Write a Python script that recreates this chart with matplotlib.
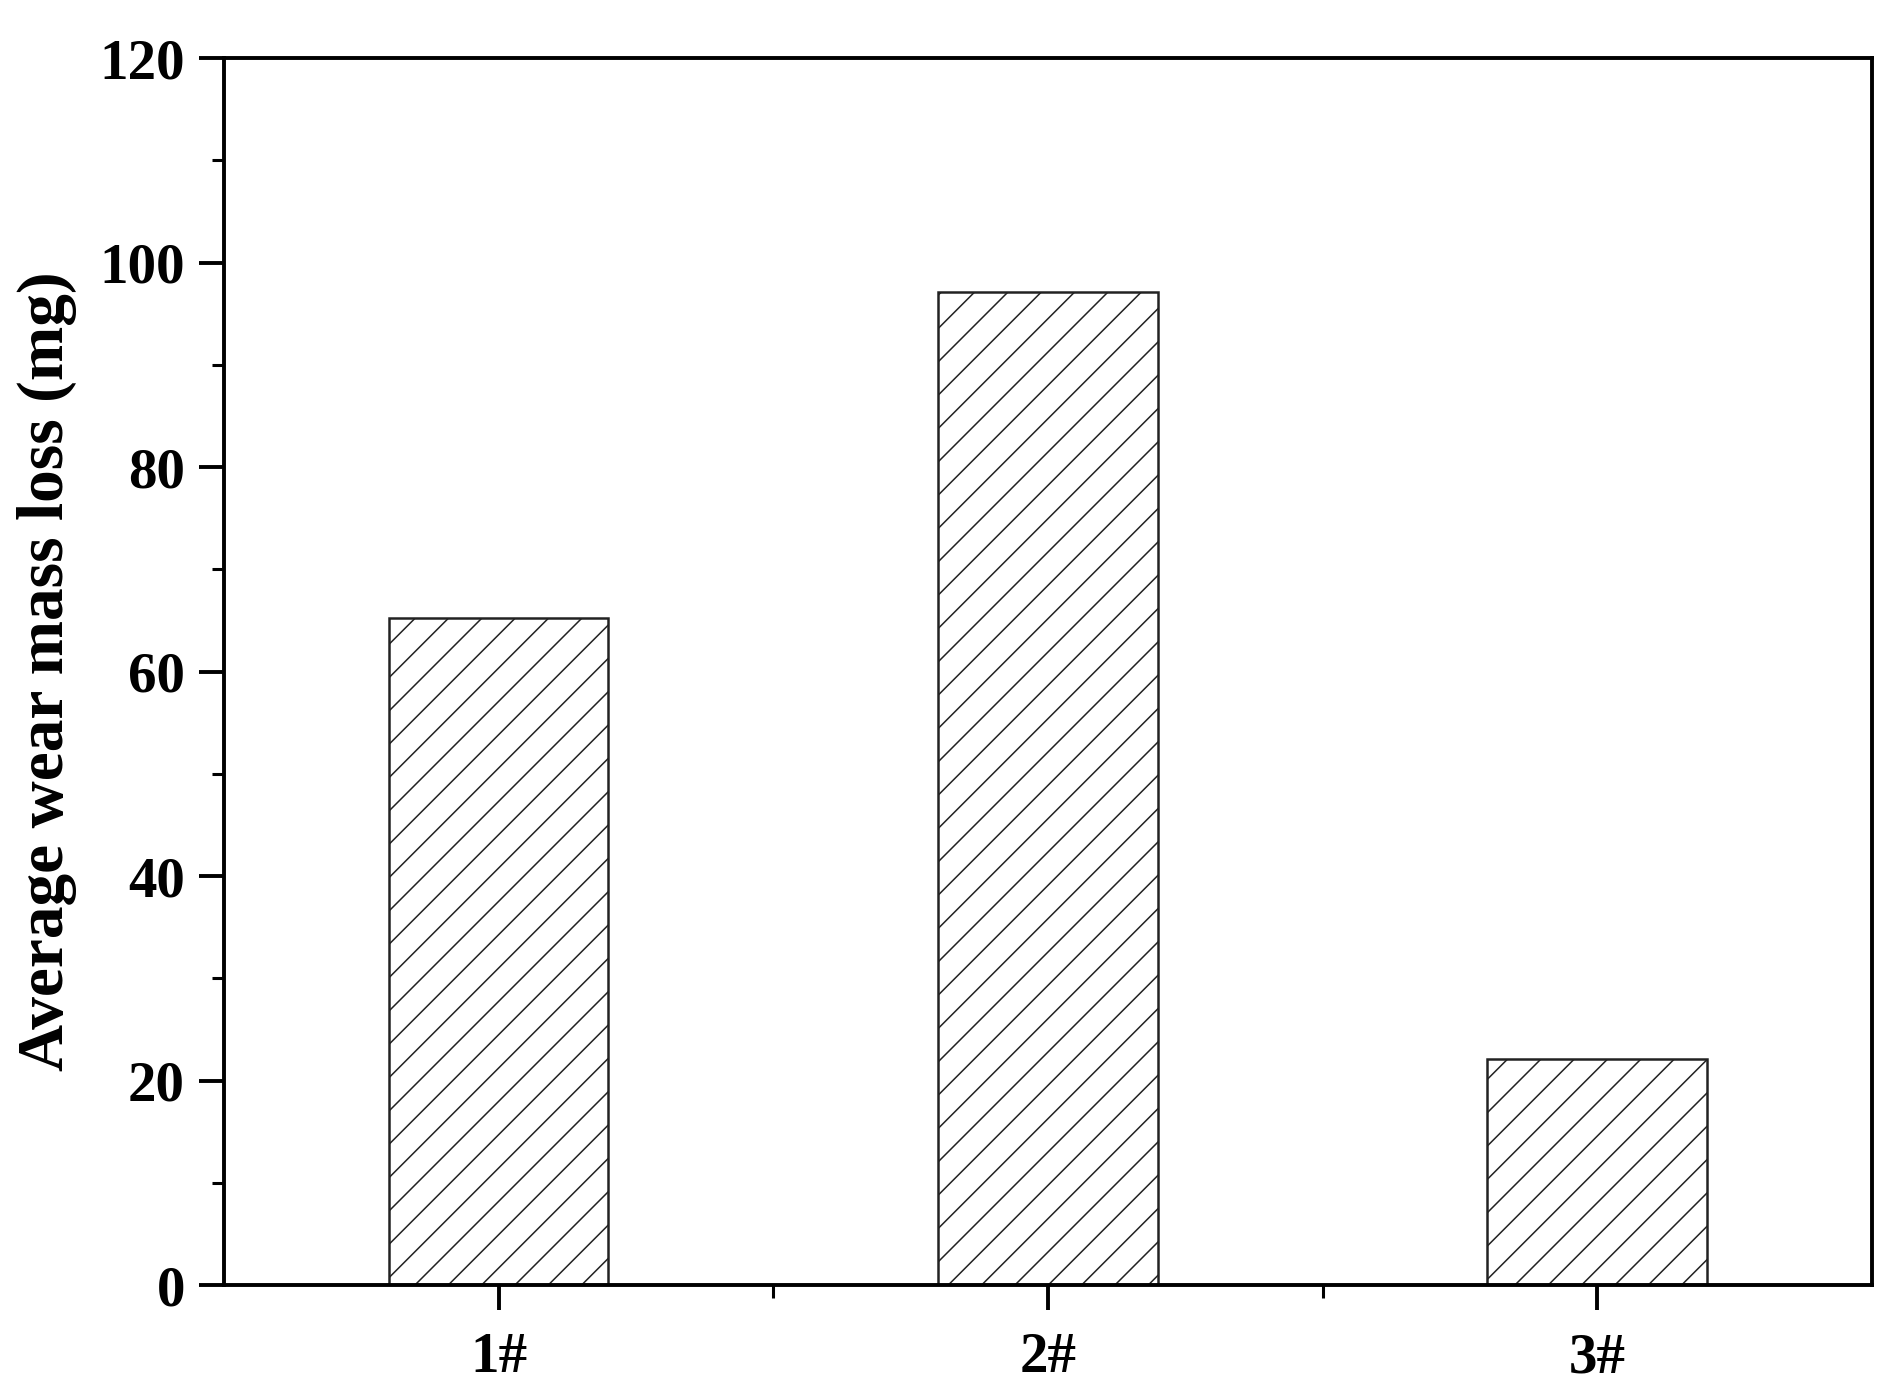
from matplotlib import pyplot as plt
from matplotlib.ticker import MultipleLocator, FixedLocator
import numpy as np

samples = ["1#", "2#", "3#"]
wear_loss = [65.2, 97.1, 22.1]

plt.rcParams["font.family"] = ["Liberation Serif", "DejaVu Serif"]
plt.rcParams["font.weight"] = "bold"
plt.rcParams["hatch.linewidth"] = 0.55
plt.rcParams["hatch.color"] = "#222222"

## high dpi so the hatch spacing comes out like the reference
fig = plt.figure(figsize=(9.48, 6.99), dpi=200)
ax = fig.add_axes([0.1181, 0.0808, 0.8692, 0.8777])

x = np.arange(1, len(samples) + 1)
ax.bar(x, wear_loss, width=0.4, color="white", edgecolor="#222222",
       linewidth=0.9, hatch="//")

ax.set_xlim(0.5, 3.5)
ax.set_ylim(0, 120)
ax.set_xticks(x)
ax.set_xticklabels(samples)
ax.xaxis.set_minor_locator(FixedLocator([1.5, 2.5]))
ax.yaxis.set_major_locator(MultipleLocator(20))
ax.yaxis.set_minor_locator(MultipleLocator(10))

for side in ax.spines.values():
    side.set_linewidth(1.4)

ax.tick_params(axis="both", which="major", direction="out", length=9,
               width=1.4, labelsize=20.5)
ax.tick_params(axis="y", which="major", pad=5)
ax.tick_params(axis="x", which="major", pad=8)
ax.tick_params(axis="both", which="minor", direction="out", length=4.5, width=1.1)
ax.tick_params(top=False, right=False, which="both")

ax.set_ylabel("Average wear mass loss (mg)", fontsize=23.5, fontweight="bold", labelpad=8)

fig.savefig("out.png", dpi=200)
